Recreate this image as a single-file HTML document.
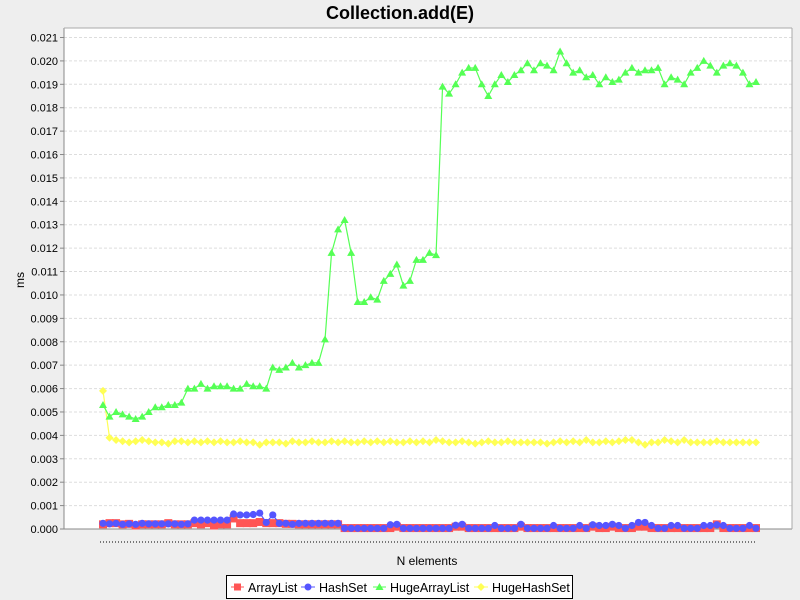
<!DOCTYPE html>
<html><head><meta charset="utf-8"><style>
body{margin:0;background:#eeeeee;font-family:"Liberation Sans",sans-serif;}
svg{display:block}
</style></head><body>
<svg id="chart" width="800" height="600" xmlns="http://www.w3.org/2000/svg">
<rect x="0" y="0" width="800" height="600" fill="#eeeeee"/>
<text x="400" y="19" text-anchor="middle" font-size="18" font-weight="bold">Collection.add(E)</text>
<rect x="64" y="28" width="728" height="501" fill="#ffffff"/>
<g id="grid"></g>
<g id="yticks"></g>
<line x1="64" y1="28" x2="64" y2="529" stroke="#888"/>
<line x1="64" y1="529" x2="792" y2="529" stroke="#888"/>
<line x1="64" y1="28" x2="792" y2="28" stroke="#aaa"/>
<line x1="792" y1="28" x2="792" y2="529" stroke="#aaa"/>
<line x1="100" y1="542" x2="757" y2="542" stroke="#000" stroke-dasharray="1,2"/>
<text x="24" y="280" transform="rotate(-90 24 280)" text-anchor="middle" font-size="12">ms</text>
<text x="427" y="565" text-anchor="middle" font-size="12">N elements</text>
<g id="series"></g>
<g>
<rect x="226.5" y="575.5" width="346" height="23" fill="#fff" stroke="#000"/>
<g><line x1="231" y1="587" x2="244" y2="587" stroke="#ff5555"/><rect x="234" y="583.5" width="7" height="7" fill="#ff5555"/><text x="248" y="592" font-size="12.5">ArrayList</text></g>
<g><line x1="301" y1="587" x2="315" y2="587" stroke="#5555ff"/><circle cx="308" cy="587" r="3.5" fill="#5555ff"/><text x="319" y="592" font-size="12.5">HashSet</text></g>
<g><line x1="373" y1="587" x2="386" y2="587" stroke="#55ff55"/><path d="M379.5,583 L383.5,590 L375.5,590Z" fill="#55ff55"/><text x="390" y="592" font-size="12.5">HugeArrayList</text></g>
<g><line x1="474" y1="587" x2="488" y2="587" stroke="#ffff55"/><path d="M481,583 L485,587 L481,591 L477,587Z" fill="#ffff55"/><text x="492" y="592" font-size="12.5">HugeHashSet</text></g>
</g>
</svg>
<script>
const yTicks=[0,0.001,0.002,0.003,0.004,0.005,0.006,0.007,0.008,0.009,0.010,0.011,0.012,0.013,0.014,0.015,0.016,0.017,0.018,0.019,0.020,0.021];
const hugeArrayList=[0.0053,0.0048,0.0050,0.0049,0.0048,0.0047,0.0048,0.0050,0.0052,0.0052,0.0053,0.0053,0.0054,0.0060,0.0060,0.0062,0.0060,0.0061,0.0061,0.0061,0.0060,0.0060,0.0062,0.0061,0.0061,0.0060,0.0069,0.0068,0.0069,0.0071,0.0069,0.0070,0.0071,0.0071,0.0081,0.0118,0.0128,0.0132,0.0118,0.0097,0.0097,0.0099,0.0098,0.0106,0.0109,0.0113,0.0104,0.0106,0.0115,0.0115,0.0118,0.0117,
0.0189,0.0186,0.0190,0.0195,0.0197,0.0197,0.0190,0.0185,0.0190,0.0194,0.0191,0.0194,0.0196,0.0199,0.0196,0.0199,0.0198,0.0196,0.0204,0.0199,0.0195,0.0196,0.0193,0.0194,0.0190,0.0193,0.0191,0.0192,0.0195,0.0197,0.0195,0.0196,0.0196,0.0197,0.0190,0.0193,0.0192,0.0190,0.0195,0.0197,0.0200,0.0198,0.0195,0.0198,0.0199,0.0198,0.0195,0.0190,0.0191];
const hugeHashSet=[0.0059,0.0039,0.0038,0.00375,0.0037,0.00375,0.0038,0.00375,0.0037,0.0037,0.00365,0.00375,0.00375,0.0037,0.00375,0.0037,0.00375,0.0037,0.00375,0.0037,0.0037,0.00375,0.0037,0.0037,0.0036,0.0037,0.0037,0.0037,0.00365,0.00375,0.0037,0.0037,0.00375,0.0037,0.0037,0.00375,0.0037,0.00375,0.0037,0.0037,0.00375,0.0037,0.00375,0.0037,0.00375,0.0037,0.0037,0.00375,0.0037,0.00375,0.0037,0.0038,0.00375,0.0037,0.0037,0.00375,0.0037,0.00365,0.0037,0.00375,0.0037,0.0037,0.00375,0.0037,0.0037,0.0037,0.0037,0.0037,0.00365,0.0037,0.00375,0.0037,0.00375,0.0037,0.0038,0.0037,0.0037,0.00375,0.0037,0.00375,0.0038,0.0038,0.0037,0.0036,0.0037,0.0037,0.0038,0.00375,0.0037,0.0038,0.0037,0.0037,0.0037,0.0037,0.00375,0.0037,0.0037,0.0037,0.0037,0.0037,0.0037];
const hashSet=[0.00024,0.00022,0.00024,0.0002,0.00022,0.0002,0.00024,0.00022,0.00022,0.00022,0.00022,0.00022,0.0002,0.00022,0.00038,0.00038,0.00038,0.00038,0.00038,0.00038,0.00064,0.0006,0.0006,0.00062,0.00068,0.00028,0.0006,0.00024,0.00024,0.0002,0.00024,0.00024,0.00024,0.00024,0.00024,0.00024,0.00024,0.00003,0.00003,0.00003,0.00003,0.00003,0.00003,0.00003,0.00018,0.0002,0.00003,0.00003,0.00003,0.00003,0.00003,0.00003,0.00003,0.00003,0.00016,0.0002,0.00003,0.00003,0.00003,0.00003,0.00015,0.00003,0.00003,0.00003,0.0002,0.00003,0.00003,0.00003,0.00003,0.00015,0.00003,0.00003,0.00003,0.00015,0.00003,0.00018,0.00015,0.00015,0.0002,0.00015,0.00003,0.00015,0.00028,0.00028,0.00015,0.00003,0.00003,0.00015,0.00015,0.00003,0.00003,0.00003,0.00015,0.00015,0.00018,0.00015,0.00003,0.00003,0.00003,0.00015,0.00003];
const arrayList=[0.0002,0.00025,0.00025,0.0002,0.00022,0.00015,0.0002,0.0002,0.0002,0.0002,0.00025,0.0002,0.0002,0.0002,0.00025,0.0002,0.00025,0.00015,0.0002,0.0002,0.00045,0.00025,0.00025,0.00025,0.0003,0.00025,0.00025,0.00025,0.00022,0.00022,0.0002,0.0002,0.0002,0.0002,0.0002,0.0002,0.0002,0.00004,0.00004,0.00004,0.00004,0.00004,0.00004,0.00004,0.00004,0.0001,0.00004,0.00004,0.00004,0.00004,0.00004,0.00004,0.00004,0.00004,0.0001,0.0001,0.00004,0.00004,0.00004,0.00004,0.00004,0.00004,0.00004,0.00004,0.0001,0.00004,0.00004,0.00004,0.00004,0.00004,0.00004,0.00004,0.00004,0.00004,0.00004,0.0001,0.00004,0.00004,0.0001,0.00004,0.00004,0.00004,0.0001,0.0001,0.00004,0.00004,0.00004,0.00004,0.00004,0.00004,0.00004,0.00004,0.00004,0.00004,0.0002,0.00004,0.00004,0.00004,0.00004,0.00004,0.00004];
const NS="http://www.w3.org/2000/svg";
function yS(v){return 529-v/0.021*491.5;}
function xS(i){return 103+i*6.53;}
const grid=document.getElementById('grid'),yt=document.getElementById('yticks'),ser=document.getElementById('series');
yTicks.forEach(t=>{
  const y=yS(t);
  if(t>0){const l=document.createElementNS(NS,'line');
  
  
  l.setAttribute('x1',64);l.setAttribute('x2',792);l.setAttribute('y1',y);l.setAttribute('y2',y);
  l.setAttribute('stroke','#dddddd');l.setAttribute('stroke-dasharray','3,2');grid.appendChild(l);}
  const k=document.createElementNS(NS,'line');
  
  
  k.setAttribute('x1',60);k.setAttribute('x2',64);k.setAttribute('y1',y);k.setAttribute('y2',y);k.setAttribute('stroke','#888');yt.appendChild(k);
  const tx=document.createElementNS(NS,'text');
  
  
  tx.setAttribute('x',58);tx.setAttribute('y',y+4);tx.setAttribute('text-anchor','end');tx.setAttribute('font-size','11');
  tx.textContent=t.toFixed(3);yt.appendChild(tx);
});
function draw(data,color,shape,name){
  const g=document.createElementNS(NS,'g');
  
  
  const pl=document.createElementNS(NS,'polyline');
  
  
  pl.setAttribute('points',data.map((v,i)=>xS(i)+','+yS(v)).join(' '));
  pl.setAttribute('fill','none');pl.setAttribute('stroke',color);pl.setAttribute('stroke-width','1.2');g.appendChild(pl);
  data.forEach((v,i)=>{
    const x=xS(i),y=yS(v);let m;
    if(shape==='sq'){m=document.createElementNS(NS,'rect');m.setAttribute('x',x-4);m.setAttribute('y',y-4);m.setAttribute('width',8);m.setAttribute('height',8);}
    else if(shape==='ci'){m=document.createElementNS(NS,'circle');m.setAttribute('cx',x);m.setAttribute('cy',y);m.setAttribute('r',3.6);}
    else if(shape==='tr'){m=document.createElementNS(NS,'path');m.setAttribute('d',`M${x},${y-4}L${x+4},${y+3}L${x-4},${y+3}Z`);}
    else {m=document.createElementNS(NS,'path');m.setAttribute('d',`M${x},${y-4}L${x+4},${y}L${x},${y+4}L${x-4},${y}Z`);}
    
    
    m.setAttribute('fill',color);g.appendChild(m);
  });
  ser.appendChild(g);
}
draw(hugeHashSet,'#ffff55','di','hugehashset');
draw(hugeArrayList,'#55ff55','tr','hugearraylist');
draw(arrayList,'#ff5555','sq','arraylist');
draw(hashSet,'#5555ff','ci','hashset');
</script>
</body></html>
